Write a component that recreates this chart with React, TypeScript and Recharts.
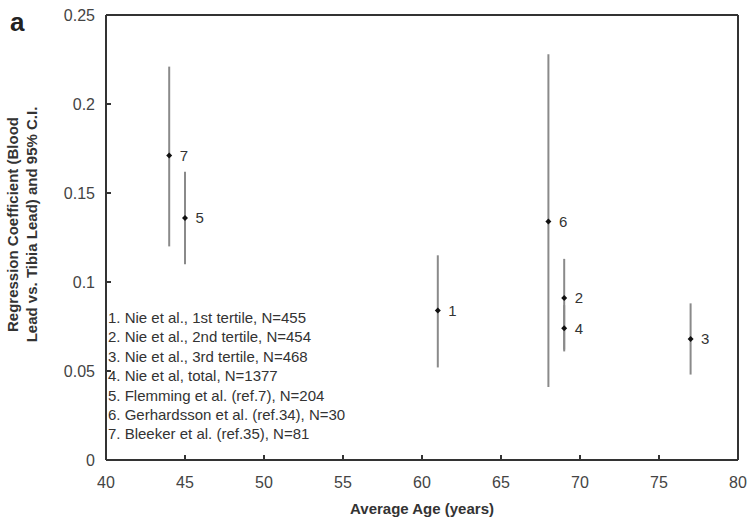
import React from 'react';
import { ScatterChart, Scatter, XAxis, YAxis, ErrorBar, LabelList, ReferenceLine, Label } from 'recharts';

// study number, average age, coefficient and 95% C.I.
const studyIds = ['1', '2', '3', '4', '5', '6', '7'];
const avgAge = [61, 69, 77, 69, 45, 68, 44];
const coef = [0.084, 0.091, 0.068, 0.074, 0.136, 0.134, 0.171];
const ciLow = [0.052, 0.061, 0.048, 0.062, 0.11, 0.041, 0.12];
const ciHigh = [0.115, 0.113, 0.088, 0.087, 0.162, 0.228, 0.221];

const legendLines = [
  '1. Nie et al., 1st tertile, N=455',
  '2. Nie et al., 2nd tertile, N=454',
  '3. Nie et al., 3rd tertile, N=468',
  '4. Nie et al, total, N=1377',
  '5. Flemming et al. (ref.7), N=204',
  '6. Gerhardsson et al. (ref.34), N=30',
  '7. Bleeker et al. (ref.35), N=81',
];

const xTicks = [40, 45, 50, 55, 60, 65, 70, 75, 80];
const yTicks = [0, 0.05, 0.1, 0.15, 0.2, 0.25];

const FONT = 'Arial, "Liberation Sans", sans-serif';
const AXIS = '#333';
const TICK_TXT = '#444';
const BAR = '#8a8a8a';

const data = studyIds.map((id, i) => ({
  id,
  age: avgAge[i],
  coef: coef[i],
  err: [coef[i] - ciLow[i], ciHigh[i] - coef[i]],
}));

const Dot = (props: any) => {
  const { cx, cy } = props;
  return <polygon points={`${cx},${cy - 3} ${cx + 3},${cy} ${cx},${cy + 3} ${cx - 3},${cy}`} fill="#111" />;
};

const YTitle = (props: any) => {
  const { viewBox } = props;
  const cy = viewBox.y + viewBox.height / 2 - 13;
  return (
    <text
      transform="rotate(-90, 0, 0)"
      style={{ fontFamily: FONT, fontSize: 15, fontWeight: 'bold', fill: AXIS }}
      textAnchor="middle"
    >
      <tspan x={-cy} y={18}>Regression Coefficient (Blood</tspan>
      <tspan x={-cy} y={37}>Lead vs. Tibia Lead) and 95% C.I.</tspan>
    </text>
  );
};

export default function App() {
  return (
    <div style={{ position: 'absolute', left: 0, top: 0, width: 750, height: 521, background: '#fff' }}>
      <ScatterChart width={750} height={521} margin={{ top: 15, right: 12, bottom: 0, left: 0 }}>
        <XAxis
          type="number"
          dataKey="age"
          domain={[40, 80]}
          ticks={xTicks}
          interval={0}
          height={61}
          tickSize={-5}
          tickMargin={22}
          stroke={AXIS}
          strokeWidth={2}
          tick={{ fill: TICK_TXT, fontSize: 16, fontFamily: FONT }}
        >
          <Label
            value="Average Age (years)"
            position="insideBottom"
            offset={7}
            style={{ fontFamily: FONT, fontSize: 15, fontWeight: 'bold', fill: AXIS }}
          />
        </XAxis>
        <YAxis
          type="number"
          dataKey="coef"
          domain={[0, 0.25]}
          ticks={yTicks}
          interval={0}
          width={106}
          tickSize={-5}
          tickMargin={16}
          stroke={AXIS}
          strokeWidth={2}
          tick={{ fill: TICK_TXT, fontSize: 16, fontFamily: FONT }}
        >
          <Label content={<YTitle />} />
        </YAxis>
        <ReferenceLine y={0.25} stroke={AXIS} strokeWidth={2} />
        <ReferenceLine x={80} stroke={AXIS} strokeWidth={2} />
        <Scatter data={data} shape={<Dot />} isAnimationActive={false}>
          <ErrorBar dataKey="err" direction="y" width={0} stroke={BAR} strokeWidth={2} />
          <LabelList
            dataKey="id"
            position="right"
            offset={6}
            style={{ fontFamily: FONT, fontSize: 15, fill: AXIS }}
          />
        </Scatter>
      </ScatterChart>
      <div
        style={{
          position: 'absolute',
          left: 10,
          top: 7,
          fontFamily: FONT,
          fontSize: 26,
          fontWeight: 'bold',
          color: '#222',
        }}
      >
        a
      </div>
      <div
        style={{
          position: 'absolute',
          left: 108,
          top: 308,
          fontFamily: FONT,
          fontSize: 15,
          lineHeight: '19.4px',
          color: AXIS,
          whiteSpace: 'nowrap',
        }}
      >
        {legendLines.map((line) => (
          <div key={line}>{line}</div>
        ))}
      </div>
    </div>
  );
}
